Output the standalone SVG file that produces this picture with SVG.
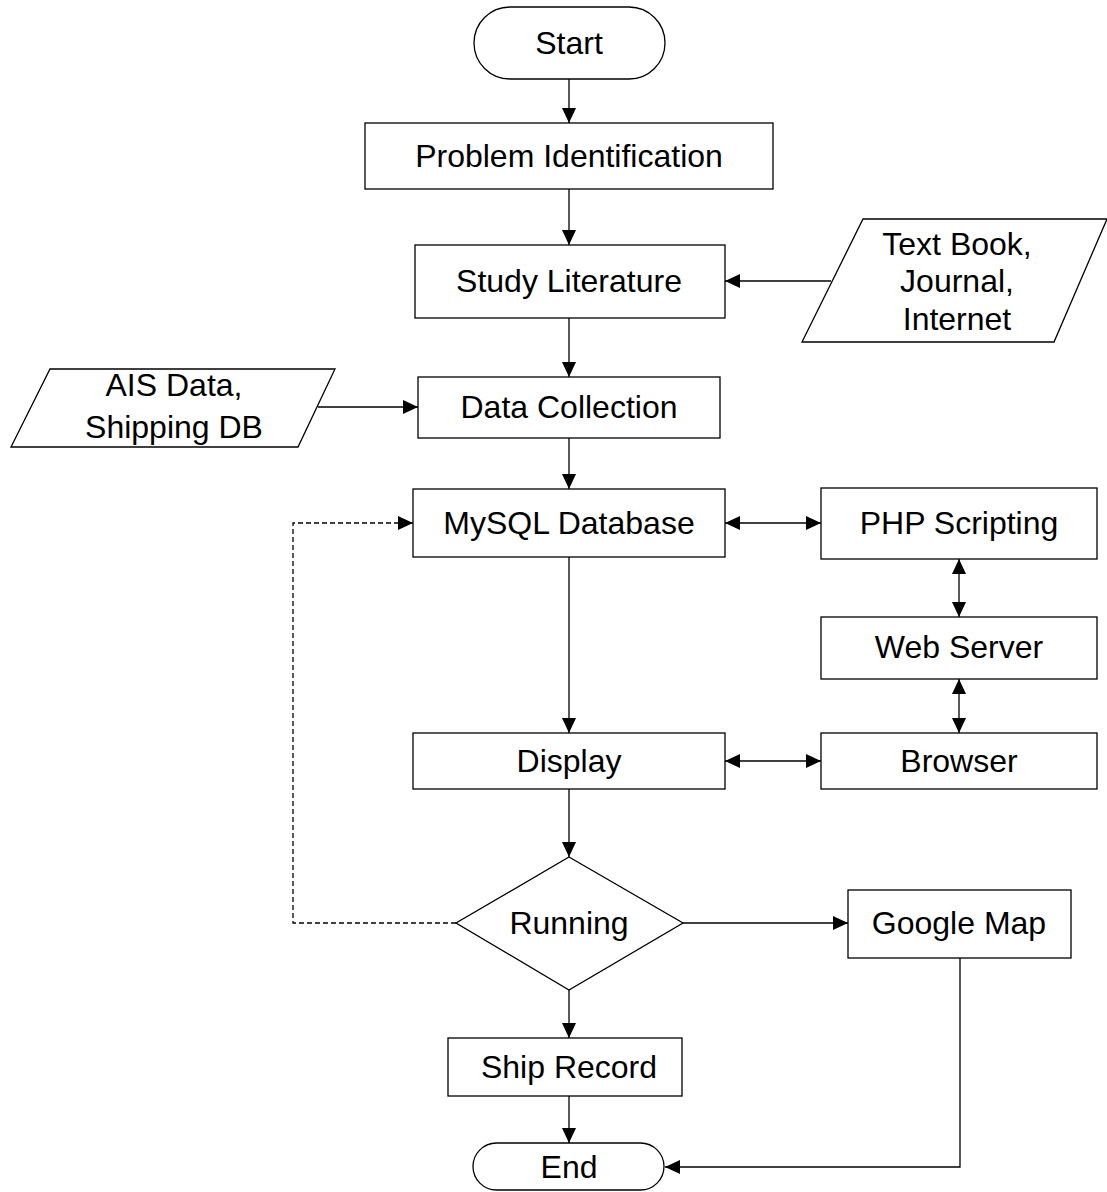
<svg xmlns="http://www.w3.org/2000/svg" width="1107" height="1192" viewBox="0 0 1107 1192">
<style>
.n{fill:#fff;stroke:#000;stroke-width:1.3}
.t{font-family:"Liberation Sans",Arial,sans-serif;font-size:32px;fill:#000;text-anchor:middle}
.c{fill:none;stroke:#000;stroke-width:1.3}
.d{fill:none;stroke:#000;stroke-width:1.3;stroke-dasharray:5,3}
</style>
<defs>
<marker id="ah" markerWidth="15" markerHeight="14" refX="15" refY="7" orient="auto-start-reverse" markerUnits="userSpaceOnUse">
<path d="M0,0 L15,7 L0,14 Z" fill="#000"/>
</marker>
</defs>
<rect width="1107" height="1192" fill="#fff"/>
<g id="connectors">
<line class="c" x1="569" y1="79" x2="569" y2="123" marker-end="url(#ah)"/>
<line class="c" x1="569" y1="189" x2="569" y2="245" marker-end="url(#ah)"/>
<line class="c" x1="831" y1="281" x2="725" y2="281" marker-end="url(#ah)"/>
<line class="c" x1="569" y1="318" x2="569" y2="377" marker-end="url(#ah)"/>
<line class="c" x1="318" y1="407" x2="418" y2="407" marker-end="url(#ah)"/>
<line class="c" x1="569" y1="438" x2="569" y2="489" marker-end="url(#ah)"/>
<line class="c" x1="725" y1="523" x2="821" y2="523" marker-start="url(#ah)" marker-end="url(#ah)"/>
<line class="c" x1="959" y1="559" x2="959" y2="617" marker-start="url(#ah)" marker-end="url(#ah)"/>
<line class="c" x1="959" y1="679" x2="959" y2="733" marker-start="url(#ah)" marker-end="url(#ah)"/>
<line class="c" x1="569" y1="557" x2="569" y2="733" marker-end="url(#ah)"/>
<line class="c" x1="725" y1="761" x2="821" y2="761" marker-start="url(#ah)" marker-end="url(#ah)"/>
<line class="c" x1="569" y1="789" x2="569" y2="857" marker-end="url(#ah)"/>
<polyline class="d" points="456,923 293,923 293,523 413,523" marker-end="url(#ah)"/>
<line class="c" x1="683" y1="923" x2="848" y2="923" marker-end="url(#ah)"/>
<line class="c" x1="569" y1="990" x2="569" y2="1038" marker-end="url(#ah)"/>
<line class="c" x1="569" y1="1096" x2="569" y2="1143" marker-end="url(#ah)"/>
<polyline class="c" points="960,958 960,1167 665,1167" marker-end="url(#ah)"/>
</g>
<g id="start"><rect class="n" x="474" y="7" width="191" height="72" rx="36" ry="36"/><text class="t" x="569" y="54">Start</text></g>
<g id="problem"><rect class="n" x="365" y="123" width="408" height="66"/><text class="t" x="569" y="167">Problem Identification</text></g>
<g id="study"><rect class="n" x="415" y="245" width="310" height="73"/><text class="t" x="569" y="292">Study Literature</text></g>
<g id="textbook"><polygon class="n" points="863,219 1107,219 1054,342 802,342"/><text class="t" x="957" y="255">Text Book,</text><text class="t" x="957" y="292">Journal,</text><text class="t" x="957" y="330">Internet</text></g>
<g id="ais"><polygon class="n" points="50,369 335,369 298,447 11,447"/><text class="t" x="174" y="396">AIS Data,</text><text class="t" x="174" y="438">Shipping DB</text></g>
<g id="datacollection"><rect class="n" x="418" y="377" width="302" height="61"/><text class="t" x="569" y="418">Data Collection</text></g>
<g id="mysql"><rect class="n" x="413" y="489" width="312" height="68"/><text class="t" x="569" y="534">MySQL Database</text></g>
<g id="php"><rect class="n" x="821" y="488" width="276" height="71"/><text class="t" x="959" y="534">PHP Scripting</text></g>
<g id="webserver"><rect class="n" x="821" y="617" width="276" height="62"/><text class="t" x="959" y="658">Web Server</text></g>
<g id="browser"><rect class="n" x="821" y="733" width="276" height="56"/><text class="t" x="959" y="772">Browser</text></g>
<g id="display"><rect class="n" x="413" y="733" width="312" height="56"/><text class="t" x="569" y="772">Display</text></g>
<g id="running"><polygon class="n" points="569,857 683,923 569,990 456,923"/><text class="t" x="569" y="934">Running</text></g>
<g id="googlemap"><rect class="n" x="848" y="890" width="223" height="68"/><text class="t" x="959" y="934">Google Map</text></g>
<g id="shiprecord"><rect class="n" x="448" y="1038" width="234" height="58"/><text class="t" x="569" y="1078">Ship Record</text></g>
<g id="end"><rect class="n" x="473" y="1143" width="191" height="47" rx="23.5" ry="23.5"/><text class="t" x="569" y="1178">End</text></g>
</svg>
